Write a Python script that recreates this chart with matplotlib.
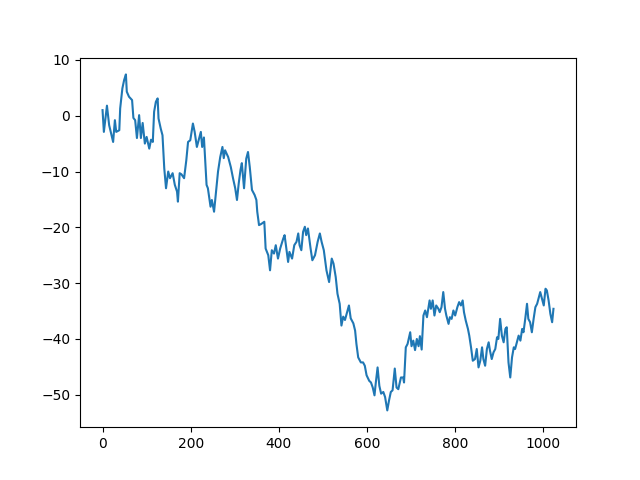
import numpy as np
import matplotlib.pyplot as plt

# Values (step index, value)
steps = [0, 3, 10, 15, 24, 28, 31, 38, 40, 45, 49, 53, 55, 60, 67, 70, 74, 78, 83, 87,
         91, 96, 100, 106, 110, 114, 117, 121, 125, 127, 132, 136, 140, 144, 149, 153, 159, 164, 169, 171,
         175, 179, 185, 190, 194, 199, 205, 209, 214, 218, 223, 226, 230, 236, 239, 245, 248, 253, 256, 262,
         267, 272, 275, 278, 285, 291, 296, 301, 305, 309, 313, 316, 321, 326, 330, 334, 339, 345, 349, 351,
         355, 360, 367, 370, 376, 380, 384, 389, 393, 398, 403, 410, 413, 417, 421, 424, 430, 435, 440, 444,
         447, 451, 455, 459, 462, 466, 472, 476, 482, 488, 493, 497, 502, 508, 514, 520, 524, 529, 533, 538,
         542, 546, 550, 556, 559, 563, 569, 573, 576, 580, 586, 591, 595, 599, 605, 609, 613, 617, 620, 624,
         628, 632, 637, 641, 646, 650, 654, 658, 663, 667, 671, 677, 682, 684, 688, 692, 698, 701, 705, 709,
         713, 717, 720, 724, 728, 732, 736, 742, 745, 749, 753, 757, 762, 765, 769, 773, 777, 780, 785, 788,
         792, 796, 800, 805, 809, 813, 817, 820, 824, 829, 832, 836, 840, 845, 849, 853, 857, 861, 864, 868,
         872, 876, 879, 883, 887, 891, 895, 898, 902, 906, 910, 914, 917, 921, 925, 929, 933, 936, 940, 944,
         948, 952, 955, 959, 963, 966, 970, 974, 978, 982, 986, 989, 993, 997, 1001, 1005, 1008, 1012, 1016, 1020,
         1023]

walk = [1.0, -2.9, 1.8, -1.7, -4.7, -0.8, -2.9, -2.6, 1.3, 4.9, 6.4, 7.4, 4.3, 3.4, 2.8, -0.4, -0.8, -4.0, 0.1, -4.0,
        -1.3, -5.0, -3.8, -5.9, -4.3, -4.7, 0.7, 2.5, 3.1, -0.5, -2.3, -3.5, -9.4, -13.0, -10.0, -11.2, -10.3, -12.4, -13.6, -15.4,
        -10.3, -10.5, -11.2, -8.0, -4.7, -4.4, -1.4, -2.9, -5.6, -4.4, -2.9, -5.6, -3.9, -12.4, -13.0, -16.3, -15.1, -17.2, -14.8, -10.0,
        -7.4, -5.6, -7.6, -6.2, -7.4, -9.2, -11.2, -13.0, -15.1, -12.1, -9.7, -8.5, -13.0, -7.7, -6.5, -9.2, -13.3, -14.2, -15.1, -17.2,
        -19.6, -19.4, -19.0, -23.8, -25.0, -27.7, -24.1, -24.7, -23.2, -25.6, -23.8, -22.0, -21.4, -23.8, -26.2, -24.4, -25.6, -23.2, -22.6, -21.1,
        -23.2, -24.1, -20.8, -19.9, -21.4, -20.2, -23.8, -25.9, -25.0, -22.6, -21.1, -22.6, -24.1, -27.7, -29.8, -25.6, -26.5, -28.9, -31.9, -33.7,
        -37.6, -36.0, -36.6, -34.9, -34.0, -36.3, -37.2, -38.5, -40.9, -43.3, -44.2, -44.2, -44.8, -46.5, -47.5, -47.8, -48.7, -50.1, -47.8, -45.1,
        -48.4, -49.8, -49.5, -50.4, -52.8, -51.0, -49.5, -49.2, -45.3, -48.7, -49.0, -46.9, -46.9, -47.8, -41.5, -40.9, -38.8, -41.3, -40.3, -42.0,
        -40.0, -41.3, -39.5, -41.9, -35.8, -34.9, -36.1, -33.1, -34.6, -33.1, -35.8, -34.0, -34.6, -35.2, -34.3, -31.6, -34.6, -35.8, -37.3, -36.1,
        -36.4, -34.9, -35.8, -34.3, -33.4, -34.0, -33.1, -35.2, -36.7, -38.2, -39.4, -41.5, -43.9, -43.6, -41.8, -45.1, -43.9, -41.5, -43.6, -44.8,
        -41.8, -40.6, -42.1, -43.6, -42.4, -41.8, -39.7, -40.0, -36.4, -39.4, -40.6, -38.2, -37.9, -44.2, -46.9, -43.3, -41.5, -41.8, -40.6, -39.4,
        -40.3, -38.2, -38.8, -36.4, -33.7, -36.4, -37.0, -38.8, -36.4, -34.3, -33.7, -32.8, -31.6, -32.8, -34.0, -31.0, -31.3, -33.1, -35.5, -37.0,
        -34.6]

plt.figure(figsize=(6.4, 4.8), dpi=100)
plt.plot(steps, walk)

plt.savefig("out.png")
